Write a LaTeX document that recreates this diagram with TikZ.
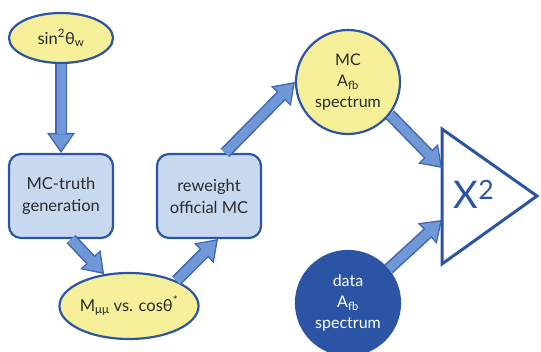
\documentclass[tikz,border=0pt]{standalone}
\usepackage{fontspec}
\setmainfont{Lato}
\usetikzlibrary{arrows.meta, shapes.geometric}

\definecolor{lineblue}{HTML}{2C54A4}
\definecolor{paleyellow}{HTML}{F5EF99}
\definecolor{boxblue}{HTML}{C8D8EF}
\definecolor{arrowblue}{HTML}{7098D6}
\definecolor{arrowedge}{HTML}{3E66B4}
\definecolor{txtgray}{HTML}{2A2A2A}

\tikzset{
  blob/.style={ellipse, draw=lineblue, line width=2.2pt, fill=paleyellow, text=txtgray,
    inner sep=0pt, font=\fontsize{16.5}{21}\selectfont},
  stepbox/.style={rectangle, rounded corners=12pt, draw=lineblue, line width=2.2pt, fill=boxblue,
    text=txtgray, minimum width=104pt, minimum height=84pt, align=center,
    font=\fontsize{16.5}{22}\selectfont},
  spec/.style={circle, draw=lineblue, line width=2.2pt, fill=paleyellow, text=txtgray,
    minimum size=104pt, inner sep=0pt, align=center, font=\fontsize{16}{21}\selectfont},
  fatarrow/.style={
    preaction={draw=arrowedge, line width=12pt, shorten >=0pt,
      -{Triangle[length=20pt, width=28pt, line width=0pt]}},
    draw=arrowblue, line width=9pt, shorten >=2.6pt,
    -{Triangle[length=16pt, width=23pt, line width=0pt]}}
}

\begin{document}
\begin{tikzpicture}[x=1pt, y=-1pt]
  \useasboundingbox (0,0) rectangle (541,352);
  % inputs and processing steps
  \node[blob, minimum width=104pt, minimum height=50pt] (sinw) at (61,38)
    {sin\textsuperscript{2}θ\textsubscript{w}};
  \node[stepbox] (truth) at (61,196) {MC-truth\\generation};
  \node[stepbox] (rewgt) at (209,196) {reweight\\official MC};
  \node[blob, minimum width=134pt, minimum height=66pt] (mumu) at (129,306)
    {M\textsubscript{μμ} vs. cosθ\textsuperscript{*}};
  % spectra
  \node[spec] (mcspec) at (348,82) {MC\\A\textsubscript{fb}\\spectrum};
  \node[spec, fill=lineblue, text=white] (dataspec) at (348,303) {data\\A\textsubscript{fb}\\spectrum};
  % chi2 comparison
  \draw[lineblue, line width=3pt] (442,129) -- (442,264) -- (537,196) -- cycle;
  \node[text=lineblue, font=\fontsize{38}{38}\selectfont] (chi) at (474,194) {X\textsuperscript{2}};
  \coordinate (chiup) at (442,168);
  \coordinate (chilow) at (442,220);
  % flow
  \draw[fatarrow] (sinw) -- (truth);
  \draw[fatarrow] ([xshift=10pt]truth.south) -- (mumu.128);
  \draw[fatarrow] (mumu.28) -- ([xshift=9pt]rewgt.south);
  \draw[fatarrow] ([xshift=16pt]rewgt.north) -- (mcspec.west);
  \draw[fatarrow] (mcspec.-38) -- (chiup);
  \draw[fatarrow] (dataspec.40) -- (chilow);
\end{tikzpicture}
\end{document}
